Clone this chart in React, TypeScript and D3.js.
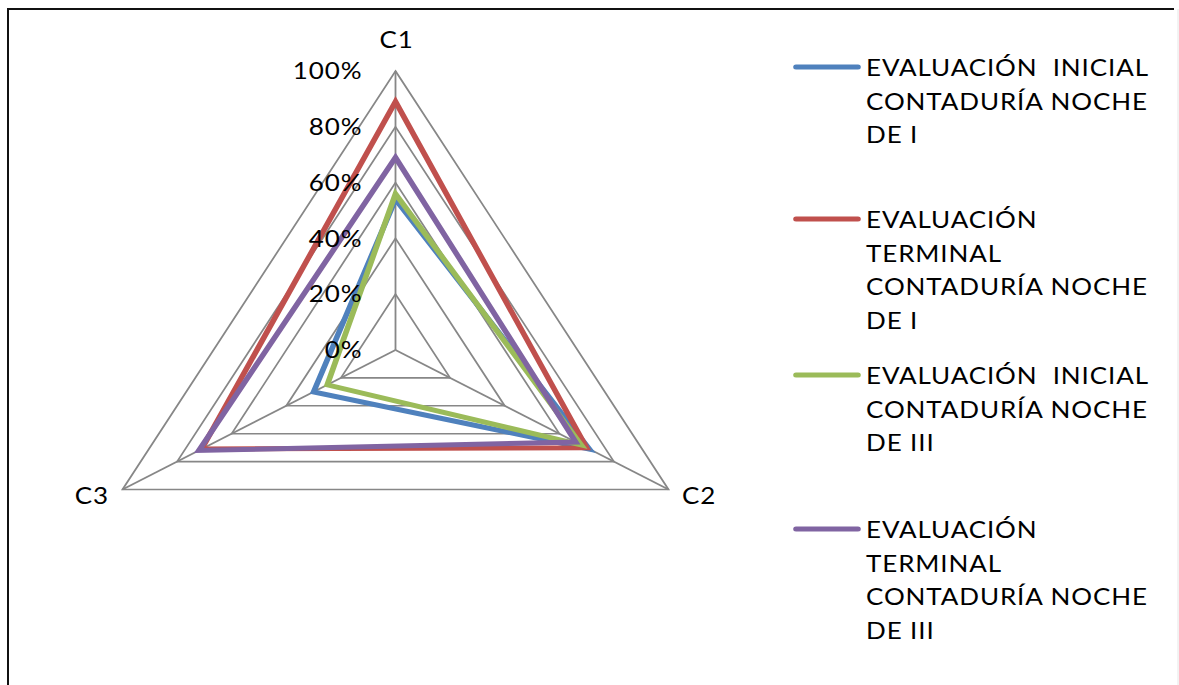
import React from "react";
import * as d3 from "d3";

const categories = ["C1", "C2", "C3"];
const tickValues = [0, 0.2, 0.4, 0.6, 0.8, 1.0];
const tickLabels = ["0%", "20%", "40%", "60%", "80%", "100%"];

const inicialNocheI = [0.54, 0.71, 0.3];
const terminalNocheI = [0.89, 0.7, 0.71];
const inicialNocheIII = [0.56, 0.68, 0.25];
const terminalNocheIII = [0.69, 0.66, 0.72];

const seriesNames = [
  ["EVALUACIÓN  INICIAL", "CONTADURÍA NOCHE", "DE I"],
  ["EVALUACIÓN", "TERMINAL", "CONTADURÍA NOCHE", "DE I"],
  ["EVALUACIÓN  INICIAL", "CONTADURÍA NOCHE", "DE III"],
  ["EVALUACIÓN", "TERMINAL", "CONTADURÍA NOCHE", "DE III"],
];
const seriesValues = [inicialNocheI, terminalNocheI, inicialNocheIII, terminalNocheIII];
const seriesColors = ["#4F81BD", "#C0504D", "#9BBB59", "#8064A2"];

const W = 1179;
const H = 685;
const SX = 1.13;
const CX = 350;
const CY = 350;
const R = 279;
const FONT = "Lato, 'Open Sans', sans-serif";
const FS = 23;
const LS = 0.8;

export default function App() {
  const r = d3.scaleLinear().domain([0, 1]).range([0, R]);
  const angle = d3
    .scalePoint<string>()
    .domain(categories)
    .range([0, (2 * Math.PI * (categories.length - 1)) / categories.length]);

  const radial = d3
    .lineRadial<number>()
    .angle((_, i) => angle(categories[i]) as number)
    .radius((v) => r(v))
    .curve(d3.curveLinearClosed);

  const pt = (cat: string, v: number): [number, number] => {
    const a = angle(cat) as number;
    return [r(v) * Math.sin(a), -r(v) * Math.cos(a)];
  };

  const legendStarts = [68, 220, 376, 530];
  const lineGap = 33.5;

  return (
    <svg
      width={W}
      height={H}
      style={{ position: "absolute", left: 0, top: 0, background: "#fff" }}
      fontFamily={FONT}
      letterSpacing={LS}
    >
      <rect x={0} y={0} width={W} height={H} fill="#fff" />
      <path d={`M8,${H} L8,9 L1174,9`} fill="none" stroke="#111" strokeWidth={2} />
      <line x1={1178} y1={9} x2={1178} y2={H} stroke="#e6e6e6" strokeWidth={1} />
      <g transform={`scale(${SX},1)`}>
        <g transform={`translate(${CX},${CY})`}>
          {tickValues.slice(1).map((t) => (
            <path
              key={t}
              d={radial(categories.map(() => t)) || ""}
              fill="none"
              stroke="#878787"
              strokeWidth={1.6}
            />
          ))}
          {categories.map((c) => {
            const [x, y] = pt(c, 1);
            return <line key={c} x1={0} y1={0} x2={x} y2={y} stroke="#878787" strokeWidth={1.6} />;
          })}
          {seriesValues.map((vals, i) => (
            <path
              key={i}
              d={radial(vals) || ""}
              fill="none"
              stroke={seriesColors[i]}
              strokeWidth={5}
              strokeLinejoin="miter"
            />
          ))}
          {tickValues.map((t, i) => (
            <text
              key={t}
              x={-30 + LS}
              y={-r(t)}
              dy="0.36em"
              textAnchor="end"
              fontSize={FS}
              fill="#000"
            >
              {tickLabels[i]}
            </text>
          ))}
          <text x={1} y={-302} textAnchor="middle" fontSize={FS} fill="#000">
            {categories[0]}
          </text>
          {(() => {
            const [x, y] = pt(categories[1], 1);
            return (
              <text x={x + 12} y={y + 15} textAnchor="start" fontSize={FS} fill="#000">
                {categories[1]}
              </text>
            );
          })()}
          {(() => {
            const [x, y] = pt(categories[2], 1);
            return (
              <text x={x - 12} y={y + 15} textAnchor="end" fontSize={FS} fill="#000">
                {categories[2]}
              </text>
            );
          })()}
        </g>
        {seriesNames.map((lines, i) => (
          <g key={i}>
            <line
              x1={796 / SX}
              x2={858 / SX}
              y1={legendStarts[i] - 1}
              y2={legendStarts[i] - 1}
              stroke={seriesColors[i]}
              strokeWidth={5}
              strokeLinecap="round"
            />
            {lines.map((s, j) => (
              <text
                key={j}
                x={866 / SX}
                y={legendStarts[i] + j * lineGap}
                dy="0.36em"
                fontSize={FS}
                fill="#000"
                style={{ whiteSpace: "pre" }}
              >
                {s}
              </text>
            ))}
          </g>
        ))}
      </g>
    </svg>
  );
}
